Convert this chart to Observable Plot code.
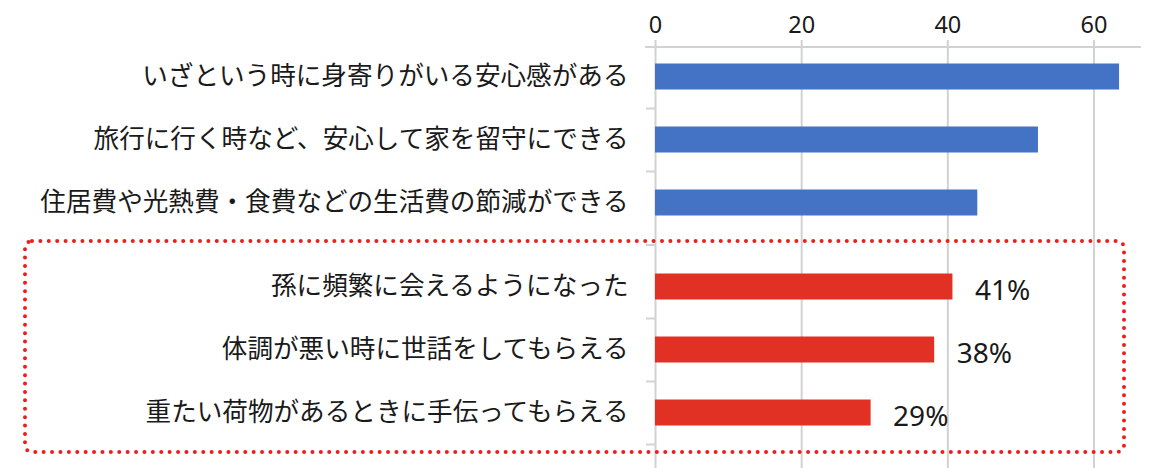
<!DOCTYPE html>
<html>
<head>
<meta charset="utf-8">
<script src="https://cdn.jsdelivr.net/npm/d3@7"></script>
<script src="https://cdn.jsdelivr.net/npm/@observablehq/plot@0.6"></script>
<style>
  html, body { margin: 0; padding: 0; background: #fff; }
  #chart { width: 1160px; height: 475px; }
</style>
</head>
<body>
<div id="chart"></div>
<script>
// ---- data ----
const categories = [
  "いざという時に身寄りがいる安心感がある",
  "旅行に行く時など、安心して家を留守にできる",
  "住居費や光熱費・食費などの生活費の節減ができる",
  "孫に頻繁に会えるようになった",
  "体調が悪い時に世話をしてもらえる",
  "重たい荷物があるときに手伝ってもらえる"
];
const values = [63.5, 52.4, 44.1, 40.7, 38.2, 29.5];
const groups = ["a", "a", "a", "b", "b", "b"];
const valueLabels = ["", "", "", "41%", "38%", "29%"];
const xTicks = [0, 20, 40, 60];

// ---- layout / style ----
const FONT = "'Noto Sans CJK JP', 'Noto Sans', sans-serif";
const NUM_FONT = "'Noto Sans', 'Noto Sans CJK JP', sans-serif";
const BLUE = "#4472C4";
const RED = "#E03124";
const GRID = "#d2d2d2";
const INK = "#1a1a1a";
const STEP = 63;
const Y0 = 45;
const GAP = 21;
const BAR_H = 26;
const inset = (STEP - BAR_H) / 2;

const data = categories.map((c, i) => ({category: c, value: values[i], group: groups[i], label: valueLabels[i]}));
const A = data.filter(d => d.group === "a");
const B = data.filter(d => d.group === "b");

const tickStyle = {x1: 0, x2: 0, insetLeft: -9, stroke: GRID, strokeWidth: 2};
const catText = {y: "category", text: "category", frameAnchor: "left", textAnchor: "end", dx: -27, fontSize: 25.6, fill: INK};

const chart = Plot.plot({
  width: 1160,
  height: 475,
  marginTop: 40,
  marginBottom: 7,
  marginLeft: 655,
  marginRight: 19,
  style: {fontFamily: FONT, background: "white", color: INK},
  x: {domain: [0, 66.5], axis: null, label: null},
  y: {type: "band", domain: categories, range: [Y0, Y0 + categories.length * STEP], padding: 0, axis: null, label: null},
  marks: [
    Plot.ruleX(xTicks, {stroke: GRID, strokeWidth: 2}),
    Plot.ruleY([categories[0]], {dy: -STEP / 2 + 1.5, insetLeft: -10, stroke: GRID, strokeWidth: 2}),
    Plot.ruleY(categories.slice(1, 3), {...tickStyle, dy: -STEP / 2}),
    Plot.ruleY([categories[3]], {...tickStyle, dy: -STEP / 2 + GAP / 2}),
    Plot.ruleY(categories.slice(4), {...tickStyle, dy: -STEP / 2 + GAP}),
    Plot.ruleY([categories[5]], {...tickStyle, dy: STEP / 2 + GAP}),
    Plot.barX(A, {x: "value", y: "category", fill: BLUE, insetTop: inset, insetBottom: inset}),
    Plot.barX(B, {x: "value", y: "category", fill: RED, insetTop: inset, insetBottom: inset, dy: GAP}),
    Plot.text(A, catText),
    Plot.text(B, {...catText, dy: GAP}),
    Plot.text(B, {x: "value", y: "category", text: "label", textAnchor: "start", dx: 22, dy: GAP + 4, fontSize: 28, fontFamily: NUM_FONT, fill: INK}),
    Plot.axisX(xTicks, {anchor: "top", tickSize: 0, tickPadding: 8, fontSize: 23.5, fontFamily: NUM_FONT, label: null, tickFormat: d => String(d)})
  ]
});

// dotted highlight box around the second group, positioned from the y scale
const ys = chart.scale("y");
const boxTop = ys.apply(categories[3]) + GAP - 14;
const boxBottom = ys.apply(categories[5]) + ys.bandwidth + GAP + 8;
d3.select(chart).append("rect")
  .attr("x", 25)
  .attr("y", boxTop)
  .attr("width", 1124 - 25)
  .attr("height", boxBottom - boxTop)
  .attr("rx", 7)
  .attr("fill", "none")
  .attr("stroke", "#f01c1c")
  .attr("stroke-width", 4)
  .attr("stroke-linecap", "round")
  .attr("stroke-dasharray", "0 8.4");

document.getElementById("chart").appendChild(chart);
</script>
</body>
</html>
